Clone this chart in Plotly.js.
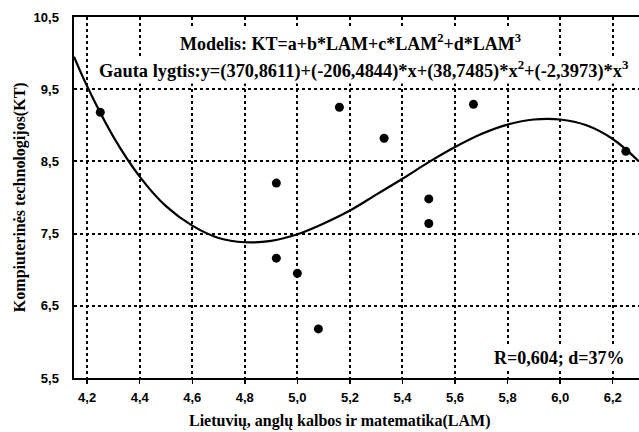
<!DOCTYPE html>
<html>
<head>
<meta charset="utf-8">
<script src="https://cdn.plot.ly/plotly-3.0.1.min.js"></script>
<style>html,body{margin:0;padding:0;background:#fff;}#chart{width:639px;height:432px;}</style>
</head>
<body>
<div id="chart"></div>
<script>
// Observed data points (LAM, KT)
const lamValues = [4.25, 4.92, 4.92, 5.00, 5.08, 5.16, 5.33, 5.50, 5.50, 5.67, 6.25];
const ktValues  = [9.18, 8.20, 7.16, 6.95, 6.18, 9.25, 8.82, 7.98, 7.64, 9.29, 8.64];

// Fitted curve
const curveX = [4.15, 4.2, 4.3, 4.4, 4.5, 4.6, 4.7, 4.8, 4.9, 5.0, 5.1, 5.2, 5.3, 5.4, 5.5, 5.6, 5.7, 5.8, 5.9, 6.0, 6.1, 6.2, 6.3];
const curveY = [9.95, 9.54, 8.84, 8.29, 7.88, 7.61, 7.44, 7.38, 7.40, 7.49, 7.64, 7.82, 8.04, 8.26, 8.49, 8.70, 8.88, 9.01, 9.08, 9.08, 9.00, 8.81, 8.50];

const xTicks = [4.2, 4.4, 4.6, 4.8, 5.0, 5.2, 5.4, 5.6, 5.8, 6.0, 6.2];
const yTicks = [5.5, 6.5, 7.5, 8.5, 9.5, 10.5];

const serifFam = 'Liberation Serif, Times New Roman, serif';
const serif = {family: serifFam, size: 18, color: '#000', weight: 700};
const serifEq = {family: serifFam, size: 18.4, color: '#000', weight: 700};
const tickFont = {family: 'Liberation Sans Narrow, Liberation Sans, Arial, sans-serif', size: 13, color: '#000', weight: 700};

const traces = [
  {x: curveX, y: curveY, mode: 'lines', type: 'scatter', line: {color: '#000', width: 2.2, shape: 'spline'}, hoverinfo: 'skip'},
  {x: lamValues, y: ktValues, mode: 'markers', type: 'scatter', marker: {color: '#000', size: 9}}
];

const layout = {
  width: 639, height: 432,
  margin: {l: 74, r: 0, t: 17, b: 54},
  paper_bgcolor: '#fff', plot_bgcolor: '#fff',
  showlegend: false,
  separators: ',.',
  xaxis: {
    range: [4.15, 6.30], tickvals: xTicks, tickformat: '.1f',
    showgrid: true, gridcolor: '#000', gridwidth: 2, griddash: 'dot',
    showline: true, linecolor: '#000', linewidth: 2, mirror: true,
    ticks: 'outside', ticklen: 4, tickcolor: '#000', tickwidth: 1.5,
    tickfont: tickFont, zeroline: false, ticklabelstandoff: 2
  },
  yaxis: {
    range: [5.5, 10.5], tickvals: yTicks, tickformat: '.1f',
    showgrid: true, gridcolor: '#000', gridwidth: 2, griddash: 'dot',
    showline: true, linecolor: '#000', linewidth: 2.5, mirror: false,
    ticks: '', tickfont: tickFont, zeroline: false, ticklabelstandoff: 10
  },
  annotations: [
    {xref: 'paper', yref: 'paper', x: 0.4885, y: 0.928, xanchor: 'center', yanchor: 'middle', showarrow: false,
     bgcolor: '#fff', borderpad: 2,
     text: 'Modelis: KT=a+b*LAM+c*LAM<sup>2</sup>+d*LAM<sup>3</sup>', font: serif},
    {xref: 'paper', yref: 'paper', x: 0.5124, y: 0.853, xanchor: 'center', yanchor: 'middle', showarrow: false,
     bgcolor: '#fff', borderpad: 1,
     text: 'Gauta lygtis:y=(370,8611)+(-206,4844)*x+(38,7485)*x<sup>2</sup>+(-2,3973)*x<sup>3</sup>', font: serifEq},
    {xref: 'paper', yref: 'paper', x: 0.860, y: 0.0554, xanchor: 'center', yanchor: 'middle', showarrow: false,
     bgcolor: '#fff', borderpad: 2,
     text: 'R=0,604; d=37%', font: serif},
    {xref: 'paper', yref: 'paper', x: 0.4708, y: -0.119, xanchor: 'center', yanchor: 'middle', showarrow: false,
     text: 'Lietuvių, anglų kalbos ir matematika(LAM)', font: {family: serifFam, size: 16, color: '#000', weight: 700}},
    {xref: 'paper', yref: 'paper', x: -0.0956, y: 0.501, xanchor: 'center', yanchor: 'middle', showarrow: false, textangle: -90,
     text: 'Kompiuterinės technologijos(KT)', font: {family: serifFam, size: 16, color: '#000', weight: 700}}
  ]
};

Plotly.newPlot('chart', traces, layout, {staticPlot: true, displayModeBar: false});
</script>
</body>
</html>
